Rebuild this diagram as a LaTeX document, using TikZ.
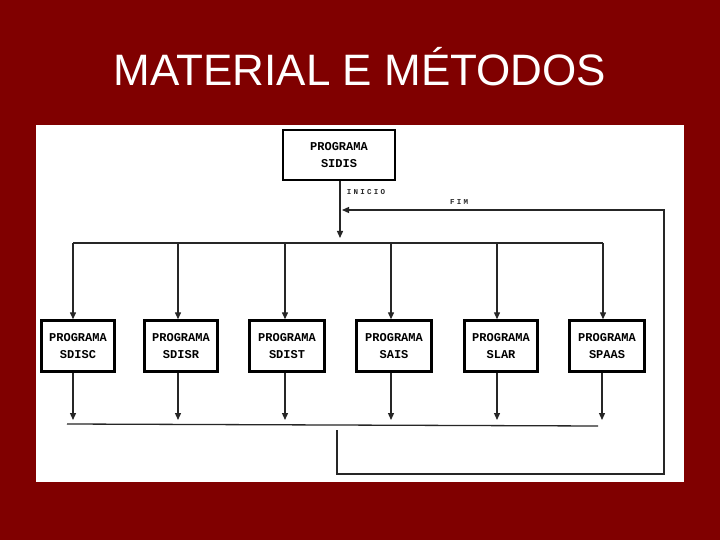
\documentclass[tikz,border=0pt]{standalone}
\usepackage{fontspec}
\setmainfont{Liberation Sans}
\newfontfamily\progfont{Liberation Mono}
\newfontfamily\spacedfont[LetterSpace=30]{Liberation Mono}
\usetikzlibrary{arrows.meta}
\definecolor{bgred}{RGB}{128,0,0}
\begin{document}
\begin{tikzpicture}[x=1pt,y=-1pt,
 prog/.style={draw=black, line width=2.4pt, fill=white, minimum width=73pt, minimum height=51pt, align=center, font=\progfont\bfseries\fontsize{12}{17}\selectfont, inner sep=0pt},
 conn/.style={line width=1.3pt, draw=black!85},
 arr/.style={conn, -{Triangle[width=6pt,length=7pt]}},
 lbl/.style={font=\spacedfont\bfseries\fontsize{7.5}{8}\selectfont, text=black!85}]
\fill[bgred] (0,0) rectangle (720,540);
\useasboundingbox (0,0) rectangle (720,540);
\fill[white] (36,125) rectangle (684,482);
\node[font=\fontsize{44}{50}\selectfont, text=white] (title) at (360,67) {MATERIAL E MÉTODOS};

\node[prog, line width=2.8pt, minimum width=112pt, minimum height=50pt] (sidis) at (339,155) {PROGRAMA\\SIDIS};

\node[prog] (b1) at (78,346) {PROGRAMA\\SDISC};
\node[prog] (b2) at (181,346) {PROGRAMA\\SDISR};
\node[prog, minimum width=75pt] (b3) at (287,346) {PROGRAMA\\SDIST};
\node[prog, minimum width=75pt] (b4) at (394,346) {PROGRAMA\\SAIS};
\node[prog] (b5) at (501,346) {PROGRAMA\\SLAR};
\node[prog, minimum width=75pt] (b6) at (607,346) {PROGRAMA\\SPAAS};

\node[lbl] (inicio) at (366,192) {INICIO};
\node[lbl] (fim) at (459,202) {FIM};

% start
\coordinate (topend) at (340,238);
\draw[arr] (sidis.south -| topend) -- (topend);

% distribution
\coordinate (d1) at (73,243);
\coordinate (d2) at (178,243);
\coordinate (d3) at (285,243);
\coordinate (d4) at (391,243);
\coordinate (d5) at (497,243);
\coordinate (d6) at (603,243);
\draw[conn] (d1) -- (d6);
\foreach \i in {1,...,6} {
  \draw[arr] (d\i) -- (d\i |- b\i.north);
}

% outputs
\coordinate (e1) at (73,420);
\coordinate (e2) at (178,420);
\coordinate (e3) at (285,420);
\coordinate (e4) at (391,420);
\coordinate (e5) at (497,420);
\coordinate (e6) at (602,420);
\foreach \i in {1,...,6} {
  \draw[arr] (b\i.south -| e\i) -- (e\i);
}
\coordinate (col1) at (67,424);
\coordinate (col2) at (598,426);
\draw[conn] (col1) -- (col2);

% return
\coordinate (c2) at (337,430);
\coordinate (c1) at (337,474);
\coordinate (r2) at (664,474);
\coordinate (r1) at (664,210);
\coordinate (fimend) at (342,210);
\draw[arr] (c2) -- (c1) -- (r2) -- (r1) -- (fimend);
\end{tikzpicture}
\end{document}
